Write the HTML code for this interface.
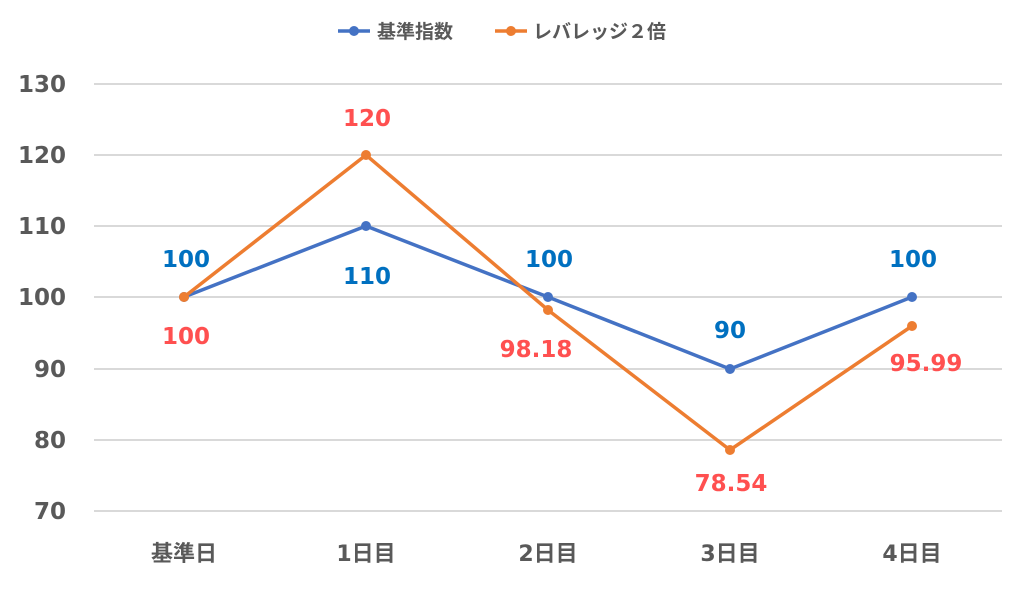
<!DOCTYPE html>
<html><head><meta charset="utf-8"><style>
body{margin:0;background:#fff;}
svg{display:block;font-family:"DejaVu Sans","Noto Sans CJK JP",sans-serif;font-weight:bold;}
</style></head><body>
<svg width="1024" height="593" viewBox="0 0 1024 593">
<g stroke="#d9d9d9" stroke-width="2">
<line x1="94" y1="84" x2="1002" y2="84"/>
<line x1="94" y1="155" x2="1002" y2="155"/>
<line x1="94" y1="226" x2="1002" y2="226"/>
<line x1="94" y1="297" x2="1002" y2="297"/>
<line x1="94" y1="369" x2="1002" y2="369"/>
<line x1="94" y1="440" x2="1002" y2="440"/>
<line x1="94" y1="511" x2="1002" y2="511"/>
</g>
<g fill="#595959" font-size="23" text-anchor="end">
<text x="66" y="92">130</text>
<text x="66" y="163">120</text>
<text x="66" y="234">110</text>
<text x="66" y="305">100</text>
<text x="66" y="377">90</text>
<text x="66" y="448">80</text>
<text x="66" y="519">70</text>
</g>
<g fill="#595959" font-size="22" text-anchor="middle">
<text x="184" y="561">基準日</text>
<text x="366" y="561">1日目</text>
<text x="548" y="561">2日目</text>
<text x="730" y="561">3日目</text>
<text x="912" y="561">4日目</text>
</g>
<polyline fill="none" stroke="#4472C4" stroke-width="3.5" points="184,297 366,226 548,297 730,369 912,297"/>
<g fill="#4472C4"><circle cx="184" cy="297" r="5"/><circle cx="366" cy="226" r="5"/><circle cx="548" cy="297" r="5"/><circle cx="730" cy="369" r="5"/><circle cx="912" cy="297" r="5"/></g>
<polyline fill="none" stroke="#ED7D31" stroke-width="3.5" points="184,297 366,155 548,310 730,450 912,326"/>
<g fill="#ED7D31"><circle cx="184" cy="297" r="5"/><circle cx="366" cy="155" r="5"/><circle cx="548" cy="310" r="5"/><circle cx="730" cy="450" r="5"/><circle cx="912" cy="326" r="5"/></g>
<g fill="#0070C0" font-size="23" text-anchor="middle">
<text x="186" y="267">100</text>
<text x="367" y="284">110</text>
<text x="549" y="267">100</text>
<text x="730" y="338">90</text>
<text x="913" y="267">100</text>
</g>
<g fill="#FF5050" font-size="23" text-anchor="middle">
<text x="186" y="344">100</text>
<text x="367" y="126">120</text>
<text x="536" y="357">98.18</text>
<text x="731" y="491">78.54</text>
<text x="926" y="371">95.99</text>
</g>
<line x1="338" y1="31" x2="370" y2="31" stroke="#4472C4" stroke-width="3.5"/>
<circle cx="354" cy="31" r="5" fill="#4472C4"/>
<text x="377" y="38" font-size="19" fill="#595959">基準指数</text>
<line x1="495" y1="31" x2="527" y2="31" stroke="#ED7D31" stroke-width="3.5"/>
<circle cx="511" cy="31" r="5" fill="#ED7D31"/>
<text x="533" y="38" font-size="19" fill="#595959">レバレッジ２倍</text>
</svg>
</body></html>
